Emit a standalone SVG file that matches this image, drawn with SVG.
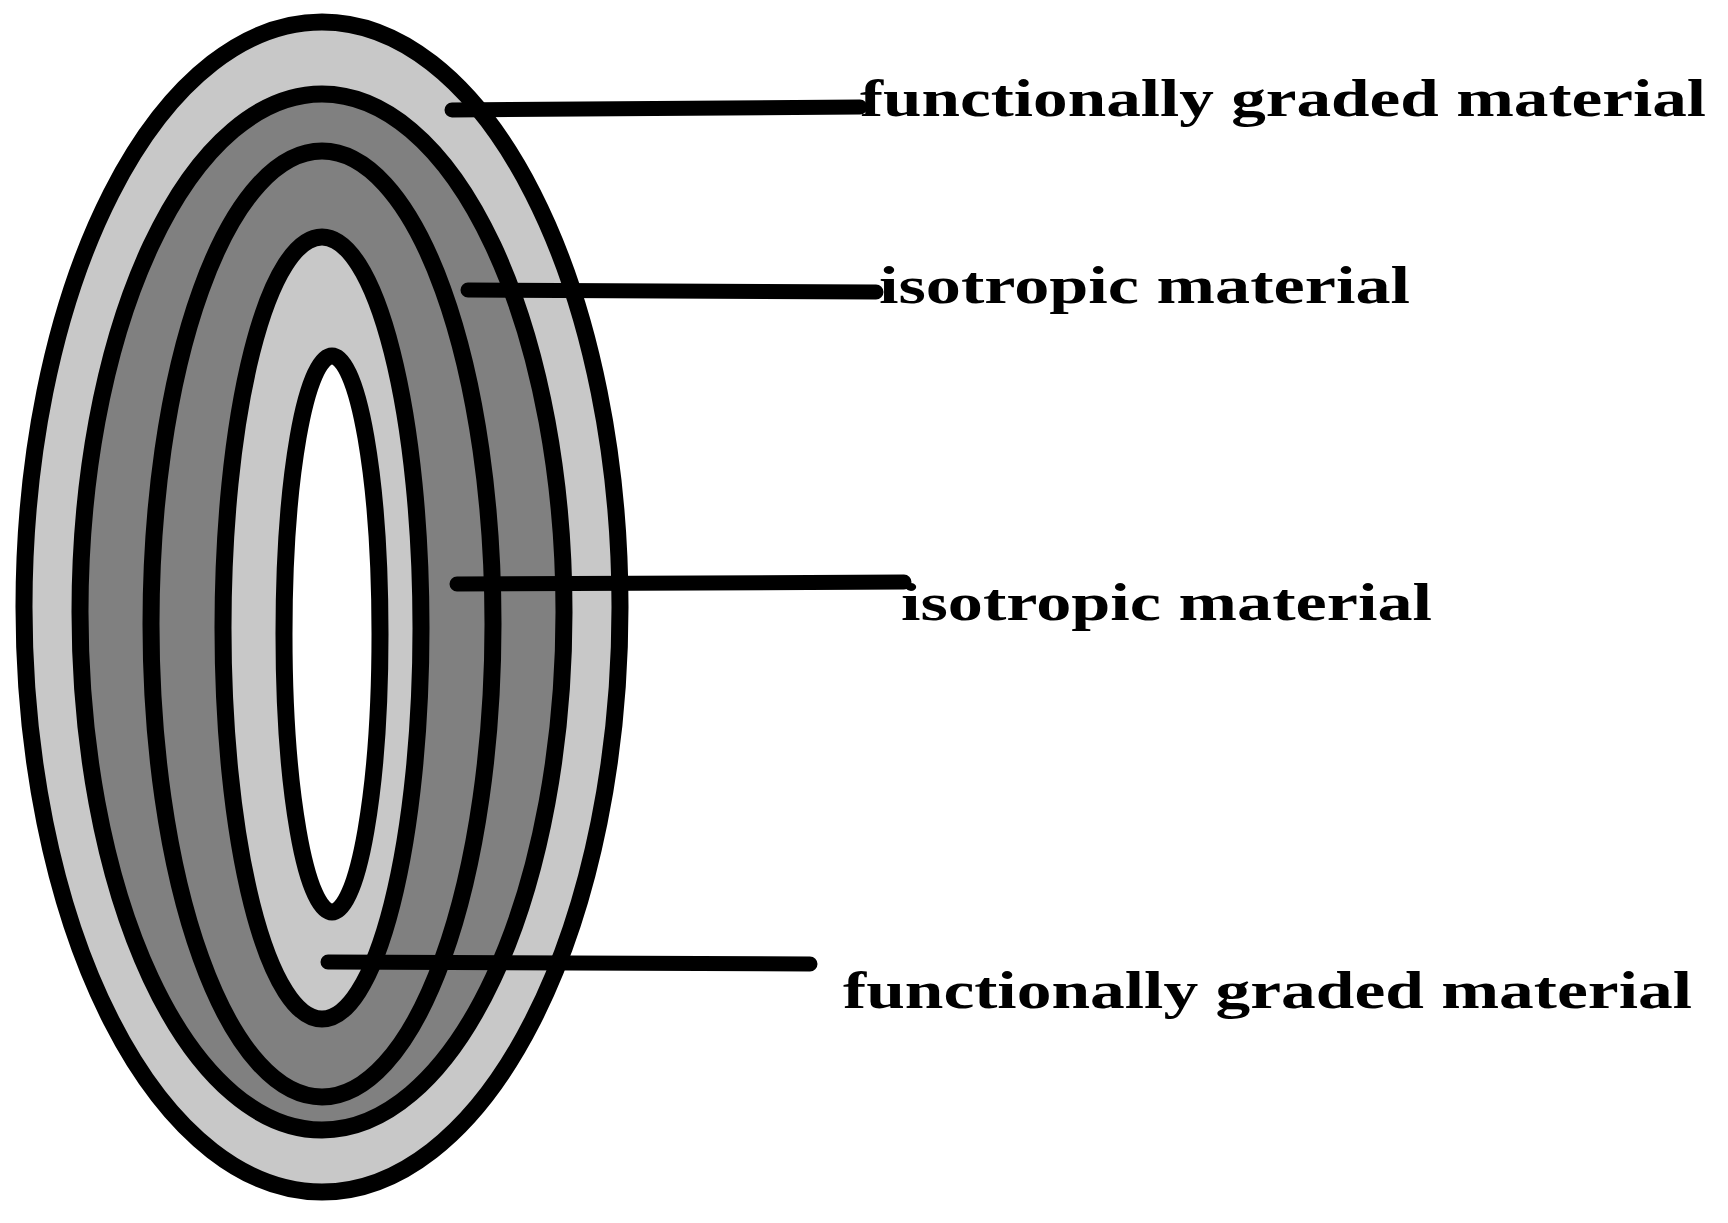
<svg xmlns="http://www.w3.org/2000/svg" width="1728" height="1223" viewBox="0 0 1728 1223">
<style>
.e{stroke:#000;stroke-width:17}
.l{stroke:#000;stroke-width:15;stroke-linecap:round;fill:none}
.t{font-family:"Liberation Serif",serif;font-weight:bold;font-size:53px;fill:#000}
</style>
<rect width="1728" height="1223" fill="#fff"/>
<g id="disk">
<ellipse class="e" cx="322" cy="607" rx="298" ry="585" fill="#c8c8c8"/>
<ellipse class="e" cx="322" cy="612" rx="242" ry="518" fill="#808080"/>
<ellipse class="e" cx="322" cy="624" rx="171" ry="473" fill="#808080"/>
<ellipse class="e" cx="322" cy="628" rx="99" ry="391" fill="#c8c8c8"/>
<ellipse class="e" cx="332" cy="634" rx="48" ry="278" fill="#fff"/>
</g>
<g id="connectors">
<line class="l" x1="452" y1="110" x2="860" y2="107"/>
<line class="l" x1="468" y1="290" x2="876" y2="292"/>
<line class="l" x1="457" y1="584" x2="904" y2="582"/>
<line class="l" x1="328" y1="962" x2="810" y2="964"/>
</g>
<g id="label1"><text class="t" x="860" y="116" textLength="846" lengthAdjust="spacingAndGlyphs">functionally graded material</text></g>
<g id="label2"><text class="t" x="879" y="303" textLength="531" lengthAdjust="spacingAndGlyphs">isotropic material</text></g>
<g id="label3"><text class="t" x="901" y="620" textLength="531" lengthAdjust="spacingAndGlyphs">isotropic material</text></g>
<g id="label4"><text class="t" x="843" y="1008" textLength="849" lengthAdjust="spacingAndGlyphs">functionally graded material</text></g>
</svg>
